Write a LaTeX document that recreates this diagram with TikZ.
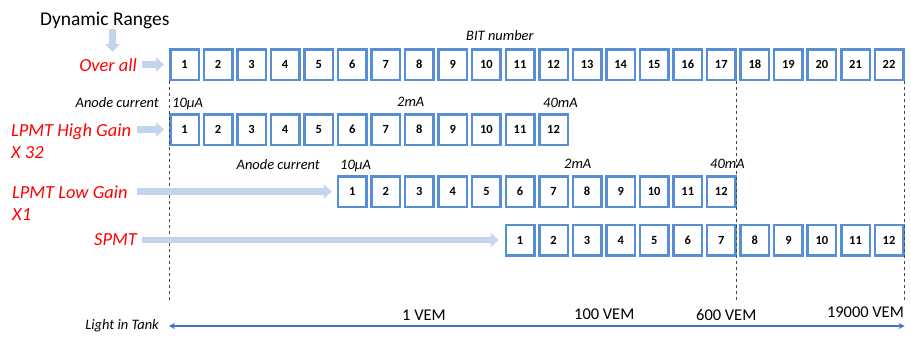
\documentclass[tikz,border=0pt]{standalone}
\usepackage{fontspec}
\setmainfont{Carlito}
\usetikzlibrary{positioning,arrows.meta}
\definecolor{bitblue}{RGB}{88,142,212}
\definecolor{paleblue}{RGB}{195,213,238}
\definecolor{axisblue}{RGB}{68,114,196}
\definecolor{guidegray}{RGB}{70,70,70}
\pgfmathsetmacro{\bitpitch}{33.55}
\pgfmathsetmacro{\bitxzero}{184.5}
\tikzset{
  bitbox/.style={draw=bitblue, line width=2.5bp, fill=white, minimum width=28.5bp,
    minimum height=30.5bp, inner sep=0pt, font=\fontsize{12.5}{14}\selectfont\bfseries},
  gainlabel/.style={text=red, inner sep=0pt, font=\fontsize{18.5}{22}\selectfont\itshape},
  curlabel/.style={inner sep=0pt, font=\fontsize{14.5}{17}\selectfont\itshape},
  vemlabel/.style={inner sep=0pt, font=\fontsize{16.5}{19}\selectfont},
  feed/.style={paleblue, line width=6.5bp, -{Triangle[length=8bp,width=14bp]}},
  guide/.style={guidegray, line width=0.9bp, dash pattern=on 3bp off 3bp}
}

\begin{document}
\begin{tikzpicture}[x=1bp,y=-1bp]
    \useasboundingbox (0,0) rectangle (911,336);
    % end points of the guides and the light axis
    \coordinate (lowend) at (0,300);
    \coordinate (axisy) at (0,326);
    % bit rows
    \foreach \i in {1,...,22}
        \node[bitbox] (all\i) at ({\bitxzero+(\i-1)*\bitpitch},64.5) {\i};
    \foreach \i in {1,...,12} {
        \pgfmathtruncatemacro{\lgcol}{\i+5}
        \pgfmathtruncatemacro{\spcol}{\i+10}
        \node[bitbox] (hg\i) at (all\i |- 0,129.5) {\i};
        \node[bitbox] (lg\i) at (all\lgcol |- 0,191.5) {\i};
        \node[bitbox] (sp\i) at (all\spcol |- 0,240) {\i};
    }
    % guides
    \draw[guide] (all1.south west) -- (all1.south west |- lowend);
    \draw[guide] (all17.south east) -- (all17.south east |- lowend);
    \draw[guide] (all22.south east) -- (all22.south east |- lowend);
    % row labels
    \node[anchor=base west, inner sep=0pt, font=\fontsize{19.5}{22}\selectfont] (title) at (40,25) {Dynamic Ranges};
    \node[gainlabel, anchor=base east] (alllab) at (137,71) {Over all};
    \node[gainlabel, anchor=base west] (hglab) at (11,136) {LPMT High Gain};
    \node[gainlabel, anchor=base west] (hgx) at (11,158) {X 32};
    \node[gainlabel, anchor=base west] (lglab) at (12,198) {LPMT Low Gain};
    \node[gainlabel, anchor=base west] (lgx) at (12,220) {X1};
    \node[gainlabel, anchor=base east] (splab) at (137,245) {SPMT};
    % feeds
    \coordinate (drtip) at (112.5,52);
    \draw[feed] (title.south -| drtip) -- (drtip);
    \draw[feed, shorten <=5bp, shorten >=5bp] (alllab.east |- all1) -- (all1.west);
    \draw[feed, shorten <=6bp, shorten >=5bp] (hglab.east |- hg1) -- (hg1.west);
    \draw[feed, shorten <=9bp, shorten >=5bp] (lglab.east |- lg1) -- (lg1.west);
    \draw[feed, shorten <=5bp, shorten >=6bp] (splab.east |- sp1) -- (sp1.west);
    % currents
    \node[curlabel, anchor=base west] (bitnum) at (466,40) {BIT number};
    \node[curlabel, anchor=base east] (hganode) at (159,107) {Anode current};
    \node[curlabel, anchor=base west] (hgmin) at (172,107) {10μA};
    \node[curlabel, anchor=base west] (hgmid) at (397,106) {2mA};
    \node[curlabel, anchor=base west] (hgmax) at (543,107) {40mA};
    \node[curlabel, anchor=base east] (lganode) at (320,169) {Anode current};
    \node[curlabel, anchor=base west] (lgmin) at (340,169) {10μA};
    \node[curlabel, anchor=base west] (lgmid) at (564,168) {2mA};
    \node[curlabel, anchor=base west] (lgmax) at (710,168) {40mA};
    % light axis
    \coordinate (axl) at (all1.west |- axisy);
    \coordinate (axr) at (all22.east |- axisy);
    \draw[axisblue, line width=1.6bp, {Stealth[length=6bp,width=6bp]}-{Stealth[length=6bp,width=6bp]}] (axl) -- (axr);
    \node[curlabel, anchor=base east] (tank) at (159,329) {Light in Tank};
    \node[vemlabel, anchor=base west] (vem1) at (402,320) {1 VEM};
    \node[vemlabel, anchor=base west] (vem100) at (574,319) {100 VEM};
    \node[vemlabel, anchor=base west] (vem600) at (696,320) {600 VEM};
    \node[vemlabel, anchor=base east] (vem19k) at (904,317) {19000 VEM};
\end{tikzpicture}
\end{document}
